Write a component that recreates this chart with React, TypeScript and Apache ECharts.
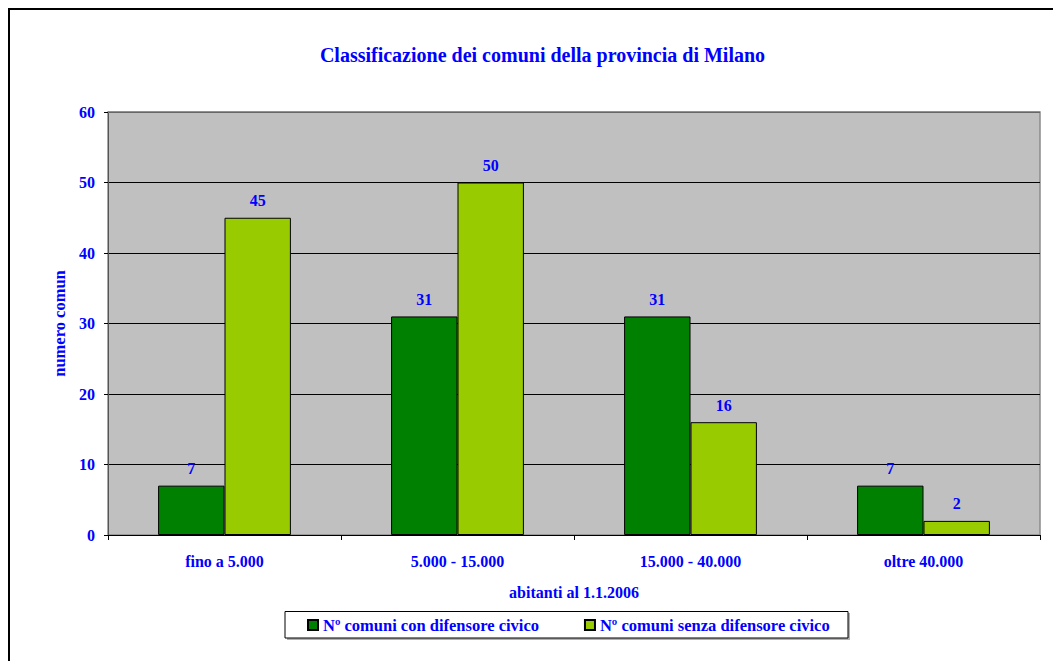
import React, { useEffect, useRef } from "react";
import * as echarts from "echarts";

const categories = ["fino a 5.000", "5.000 - 15.000", "15.000 - 40.000", "oltre 40.000"];
const seriesNames = ["Nº comuni con difensore civico", "Nº comuni senza difensore civico"];
const withDefender = [7, 31, 31, 7];
const withoutDefender = [45, 50, 16, 2];
const yTicks = { min: 0, max: 60, interval: 10 };

const FONT = '"Liberation Serif", "Times New Roman", serif';
const BLUE = "#0000FF";

export default function App() {
  const ref = useRef<HTMLDivElement>(null);
  useEffect(() => {
    if (!ref.current) return;
    const chart = echarts.init(ref.current, undefined, { renderer: "svg" });
    const labelStyle = {
      show: true,
      position: "top" as const,
      distance: 9,
      color: BLUE,
      fontFamily: FONT,
      fontWeight: "bold" as const,
      fontSize: 16,
    };
    chart.setOption({
      animation: false,
      backgroundColor: "#ffffff",
      title: {
        text: "Classificazione dei comuni della provincia di Milano",
        left: 529.5,
        top: 32,
        textAlign: "center",
        textStyle: { color: BLUE, fontFamily: FONT, fontWeight: "bold", fontSize: 20 },
      },
      graphic: [
        { type: "line", shape: { x1: 0, y1: 1, x2: 1053, y2: 1 }, style: { stroke: "#000", lineWidth: 2 } },
        { type: "line", shape: { x1: 1, y1: 0, x2: 1, y2: 653 }, style: { stroke: "#000", lineWidth: 2 } },
        { type: "line", shape: { x1: 100, y1: 104, x2: 1032, y2: 104 }, style: { stroke: "#8a8a8a", lineWidth: 1.5 }, z: 100 },
        { type: "rect", shape: { x: 279, y: 605, width: 563, height: 27 }, style: { fill: "#b0b0b0" }, z: -1 },
        { type: "rect", shape: { x: 277, y: 603.5, width: 563, height: 26.5 }, style: { fill: "#fff", stroke: "#000", lineWidth: 1 }, z: 0 },
      ],
      legend: {
        left: 294,
        top: 603.5,
        icon: "rect",
        itemWidth: 10,
        itemHeight: 10,
        itemGap: 45,
        z: 5,
        textStyle: { color: BLUE, fontFamily: FONT, fontWeight: "bold", fontSize: 16.5 },
        data: seriesNames,
      },
      grid: {
        left: 100,
        top: 104,
        width: 932,
        height: 423,
        show: true,
        backgroundColor: "#C0C0C0",
        borderColor: "#8a8a8a",
        borderWidth: 1.5,
      },
      xAxis: {
        type: "category",
        data: categories,
        name: "abitanti al 1.1.2006",
        nameLocation: "middle",
        nameGap: 49,
        nameTextStyle: { color: BLUE, fontFamily: FONT, fontWeight: "bold", fontSize: 16 },
        axisLine: { lineStyle: { color: "#000", width: 1 } },
        axisTick: { show: true, length: 5, lineStyle: { color: "#000" } },
        axisLabel: { color: BLUE, fontFamily: FONT, fontWeight: "bold", fontSize: 16, margin: 18 },
      },
      yAxis: {
        type: "value",
        min: yTicks.min,
        max: yTicks.max,
        interval: yTicks.interval,
        name: "numero comun",
        nameLocation: "middle",
        nameGap: 39,
        nameRotate: 90,
        nameTextStyle: { color: BLUE, fontFamily: FONT, fontWeight: "bold", fontSize: 16.5 },
        axisLine: { show: true, lineStyle: { color: "#555", width: 1 } },
        axisTick: { show: true, length: 4, lineStyle: { color: "#000" } },
        axisLabel: { color: BLUE, fontFamily: FONT, fontWeight: "bold", fontSize: 16, margin: 13 },
        splitLine: { show: true, lineStyle: { color: "#000", width: 1 } },
      },
      series: [
        {
          name: seriesNames[0],
          type: "bar",
          data: withDefender,
          barGap: "0%",
          barCategoryGap: "43%",
          itemStyle: { color: "#008000", borderColor: "#000", borderWidth: 1 },
          label: labelStyle,
        },
        {
          name: seriesNames[1],
          type: "bar",
          data: withoutDefender,
          barGap: "0%",
          barCategoryGap: "43%",
          itemStyle: { color: "#99CC00", borderColor: "#000", borderWidth: 1 },
          label: labelStyle,
        },
      ],
    });
    return () => chart.dispose();
  }, []);
  return <div ref={ref} style={{ width: 1053, height: 653 }} />;
}
